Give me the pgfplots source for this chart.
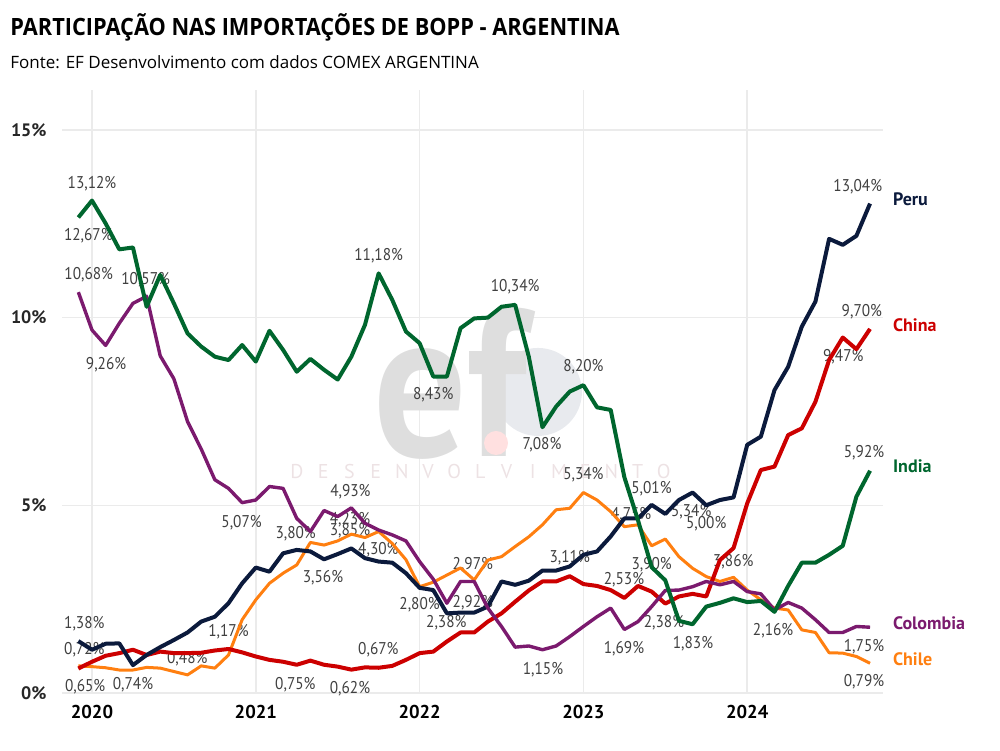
\documentclass[border=0pt]{standalone}
\usepackage{fontspec}
\setmainfont{PT Sans}
\newfontfamily\titlefont{Open Sans}[FakeStretch=0.913]
\newfontfamily\subfont{Open Sans}
\newfontfamily\lblfont{PT Sans}[FakeStretch=0.9]
\usepackage{graphicx}
\usepackage{pgfplots}
\usepackage{pgfplotstable}
\pgfplotsset{compat=1.18}
\definecolor{cnavy}{HTML}{0B1A3C}
\definecolor{cred}{HTML}{CC0000}
\definecolor{cgreen}{HTML}{00662E}
\definecolor{cpurple}{HTML}{7B1A6E}
\definecolor{corange}{HTML}{FF7F10}
\definecolor{lbl}{HTML}{404040}
\definecolor{gridc}{HTML}{EBEBEB}
\definecolor{wm}{HTML}{DEDEDE}
\definecolor{wmc}{HTML}{E8EAEE}
\definecolor{wmt}{HTML}{EDE2E4}
\tikzset{
  lb/.style={font=\lblfont\fontsize{8.5}{9}\selectfont, text=lbl, inner sep=0pt},
  sn/.style={anchor=west, inner sep=0pt, font=\bfseries\fontsize{9}{10}\selectfont},
  wl/.style={text=wmt, inner sep=0pt, font=\fontsize{10}{10}\selectfont},
}

\pgfplotstableread{
m peru china india colombia chile
-1 1.38 0.65 12.67 10.68 0.72
0 1.15 0.83 13.12 9.67 0.70
1 1.31 0.99 12.51 9.26 0.67
2 1.32 1.06 11.82 9.85 0.61
3 0.74 1.15 11.87 10.38 0.61
4 1.01 1.01 10.29 10.57 0.68
5 1.22 1.10 11.14 8.98 0.66
6 1.41 1.06 10.38 8.37 0.57
7 1.61 1.06 9.58 7.23 0.48
8 1.90 1.07 9.23 6.50 0.72
9 2.03 1.13 8.96 5.68 0.66
10 2.39 1.17 8.87 5.45 1.01
11 2.92 1.08 9.27 5.07 1.95
12 3.34 0.97 8.83 5.14 2.48
13 3.23 0.88 9.65 5.50 2.92
14 3.72 0.83 9.14 5.45 3.19
15 3.81 0.75 8.56 4.65 3.41
16 3.77 0.86 8.90 4.30 4.01
17 3.56 0.75 8.61 4.86 3.94
18 3.70 0.70 8.35 4.70 4.05
19 3.85 0.62 8.96 4.93 4.23
20 3.59 0.68 9.81 4.52 4.14
21 3.50 0.67 11.18 4.34 4.30
22 3.47 0.72 10.47 4.21 3.98
23 3.19 0.88 9.63 4.05 3.55
24 2.80 1.06 9.32 3.50 2.83
25 2.74 1.10 8.43 3.03 2.95
26 2.12 1.37 8.43 2.39 3.14
27 2.14 1.61 9.72 2.97 3.33
28 2.14 1.61 9.98 2.97 3.01
29 2.30 1.90 10.00 2.26 3.54
30 2.97 2.12 10.29 1.77 3.63
31 2.88 2.43 10.34 1.22 3.90
32 2.99 2.73 8.96 1.25 4.16
33 3.26 2.97 7.08 1.15 4.48
34 3.26 2.97 7.63 1.25 4.88
35 3.37 3.11 8.03 1.50 4.92
36 3.68 2.90 8.20 1.77 5.34
37 3.77 2.85 7.61 2.03 5.14
38 4.17 2.74 7.54 2.26 4.83
39 4.65 2.53 5.75 1.69 4.43
40 4.65 2.85 4.60 1.90 4.48
41 5.01 2.70 3.35 2.30 3.92
42 4.77 2.38 3.00 2.73 4.10
43 5.14 2.57 1.92 2.74 3.63
44 5.34 2.64 1.83 2.83 3.32
45 5.00 2.57 2.30 2.97 3.10
46 5.14 3.54 2.40 2.88 2.97
47 5.21 3.86 2.52 2.97 3.08
48 6.61 5.05 2.42 2.70 2.74
49 6.83 5.94 2.45 2.64 2.48
50 8.07 6.03 2.16 2.21 2.26
51 8.69 6.87 2.85 2.41 2.21
52 9.76 7.05 3.47 2.26 1.68
53 10.43 7.76 3.47 1.95 1.61
54 12.10 8.87 3.68 1.61 1.07
55 11.94 9.47 3.92 1.61 1.06
56 12.18 9.16 5.23 1.77 0.97
57 13.04 9.70 5.92 1.75 0.79
}\dat

\begin{document}
\begin{tikzpicture}
\begin{axis}[
  scale only axis, width=410.5pt, height=301.5pt,
  xmin=-2.2, xmax=57.95, ymin=0, ymax=16.07,
  xtick={0,12,24,36,48}, xticklabels={2020,2021,2022,2023,2024},
  ytick={0,5,10,15}, yticklabels={0\%,5\%,10\%,15\%},
  grid=major, grid style={draw=gridc, line width=0.75pt},
  axis line style={draw=none}, major tick length=0pt,
  xticklabel style={font=\bfseries\fontsize{9.3}{10}\selectfont, anchor=center, yshift=-9.5pt, text=black},
  yticklabel style={font=\bfseries\fontsize{9}{10}\selectfont, anchor=east, inner sep=0pt, xshift=-7.5pt, text=black!85},
  clip=false,
]
\coordinate (BL) at (axis cs:-6.74,-1.545);
\coordinate (TR) at (axis cs:66.52,18.465);
% titles
\node[anchor=base west, inner sep=0] at (axis cs:-6.01,17.52) {\titlefont\bfseries\fontsize{11.9}{14}\selectfont PARTICIPAÇÃO NAS IMPORTAÇÕES DE BOPP - ARGENTINA};
\node[anchor=base west, inner sep=0] at (axis cs:-6.01,16.65) {\subfont\fontsize{8.5}{10}\selectfont Fonte: EF Desenvolvimento com dados COMEX ARGENTINA};
% watermark
\fill[wmc] (axis cs:32.67,8.02) circle (22pt);
\node[anchor=base west, inner sep=0, text=wm] at (axis cs:20.6,6.29) {\scalebox{0.88}[1]{\fontsize{105}{105}\selectfont\bfseries ef}};
\fill[red!12] (axis cs:29.6,6.66) circle (6pt);
\node[wl] at (axis cs:15.02,5.89) {D};
\node[wl] at (axis cs:16.94,5.89) {E};
\node[wl] at (axis cs:18.86,5.89) {S};
\node[wl] at (axis cs:20.78,5.89) {E};
\node[wl] at (axis cs:22.70,5.89) {N};
\node[wl] at (axis cs:24.62,5.89) {V};
\node[wl] at (axis cs:26.53,5.89) {O};
\node[wl] at (axis cs:28.45,5.89) {L};
\node[wl] at (axis cs:30.37,5.89) {V};
\node[wl] at (axis cs:32.29,5.89) {I};
\node[wl] at (axis cs:34.21,5.89) {M};
\node[wl] at (axis cs:36.13,5.89) {E};
\node[wl] at (axis cs:38.05,5.89) {N};
\node[wl] at (axis cs:39.97,5.89) {T};
\node[wl] at (axis cs:41.89,5.89) {O};
% data labels
\node[lb] at (axis cs:0,13.56) {13,12\%};
\node[lb] at (axis cs:-0.27,12.18) {12,67\%};
\node[lb] at (axis cs:-0.24,11.14) {10,68\%};
\node[lb] at (axis cs:3.93,11.02) {10,57\%};
\node[lb] at (axis cs:1.03,8.74) {9,26\%};
\node[lb] at (axis cs:21.0,11.64) {11,18\%};
\node[lb] at (axis cs:25.0,7.94) {8,43\%};
\node[lb] at (axis cs:31.0,10.83) {10,34\%};
\node[lb] at (axis cs:36.0,8.69) {8,20\%};
\node[lb] at (axis cs:32.97,6.61) {7,08\%};
\node[lb] at (axis cs:56.1,13.49) {13,04\%};
\node[lb] at (axis cs:56.4,10.16) {9,70\%};
\node[lb] at (axis cs:55.04,8.96) {9,47\%};
\node[lb] at (axis cs:56.56,6.39) {5,92\%};
\node[lb] at (axis cs:36.0,5.81) {5,34\%};
\node[lb] at (axis cs:40.99,5.45) {5,01\%};
\node[lb] at (axis cs:39.5,4.74) {4,75\%};
\node[lb] at (axis cs:43.9,4.83) {5,34\%};
\node[lb] at (axis cs:45.0,4.52) {5,00\%};
\node[lb] at (axis cs:41.0,3.41) {3,90\%};
\node[lb] at (axis cs:46.98,3.50) {3,86\%};
\node[lb] at (axis cs:35.0,3.59) {3,11\%};
\node[lb] at (axis cs:38.97,3.01) {2,53\%};
\node[lb] at (axis cs:41.9,1.87) {2,38\%};
\node[lb] at (axis cs:38.97,1.19) {1,69\%};
\node[lb] at (axis cs:44.03,1.32) {1,83\%};
\node[lb] at (axis cs:49.9,1.66) {2,16\%};
\node[lb] at (axis cs:56.56,1.23) {1,75\%};
\node[lb] at (axis cs:56.56,0.30) {0,79\%};
\node[lb] at (axis cs:18.93,5.36) {4,93\%};
\node[lb] at (axis cs:18.9,4.61) {4,23\%};
\node[lb] at (axis cs:18.9,4.33) {3,85\%};
\node[lb] at (axis cs:20.98,3.81) {4,30\%};
\node[lb] at (axis cs:27.9,3.41) {2,97\%};
\node[lb] at (axis cs:27.9,2.41) {2,92\%};
\node[lb] at (axis cs:24.0,2.34) {2,80\%};
\node[lb] at (axis cs:25.96,1.87) {2,38\%};
\node[lb] at (axis cs:20.98,1.15) {0,67\%};
\node[lb] at (axis cs:18.9,0.12) {0,62\%};
\node[lb] at (axis cs:33.04,0.63) {1,15\%};
\node[lb] at (axis cs:-0.56,1.84) {1,38\%};
\node[lb] at (axis cs:-0.56,1.16) {0,72\%};
\node[lb] at (axis cs:-0.5,0.17) {0,65\%};
\node[lb] at (axis cs:3.0,0.23) {0,74\%};
\node[lb] at (axis cs:6.98,0.92) {0,48\%};
\node[lb] at (axis cs:10.0,1.63) {1,17\%};
\node[lb] at (axis cs:10.96,4.54) {5,07\%};
\node[lb] at (axis cs:14.92,4.25) {3,80\%};
\node[lb] at (axis cs:14.9,0.23) {0,75\%};
\node[lb] at (axis cs:16.92,3.08) {3,56\%};
\addplot[corange, line width=1.5pt, line join=round, no marks] table[x=m,y=chile]{\dat};
\addplot[cred, line width=2pt, line join=round, no marks] table[x=m,y=china]{\dat};
\addplot[cnavy, line width=2pt, line join=round, no marks] table[x=m,y=peru]{\dat};
\addplot[cpurple, line width=1.7pt, line join=round, no marks] table[x=m,y=colombia]{\dat};
\addplot[cgreen, line width=2pt, line join=round, no marks] table[x=m,y=india]{\dat};
\node[sn, text=cnavy] at (axis cs:58.66,13.15) {Peru};
\node[sn, text=cred] at (axis cs:58.66,9.81) {China};
\node[sn, text=cgreen] at (axis cs:58.66,6.05) {India};
\node[sn, text=cpurple] at (axis cs:58.66,1.86) {Colombia};
\node[sn, text=corange] at (axis cs:58.66,0.90) {Chile};
\end{axis}
\pgfresetboundingbox
\useasboundingbox (BL) rectangle (TR);
\end{tikzpicture}
\end{document}
